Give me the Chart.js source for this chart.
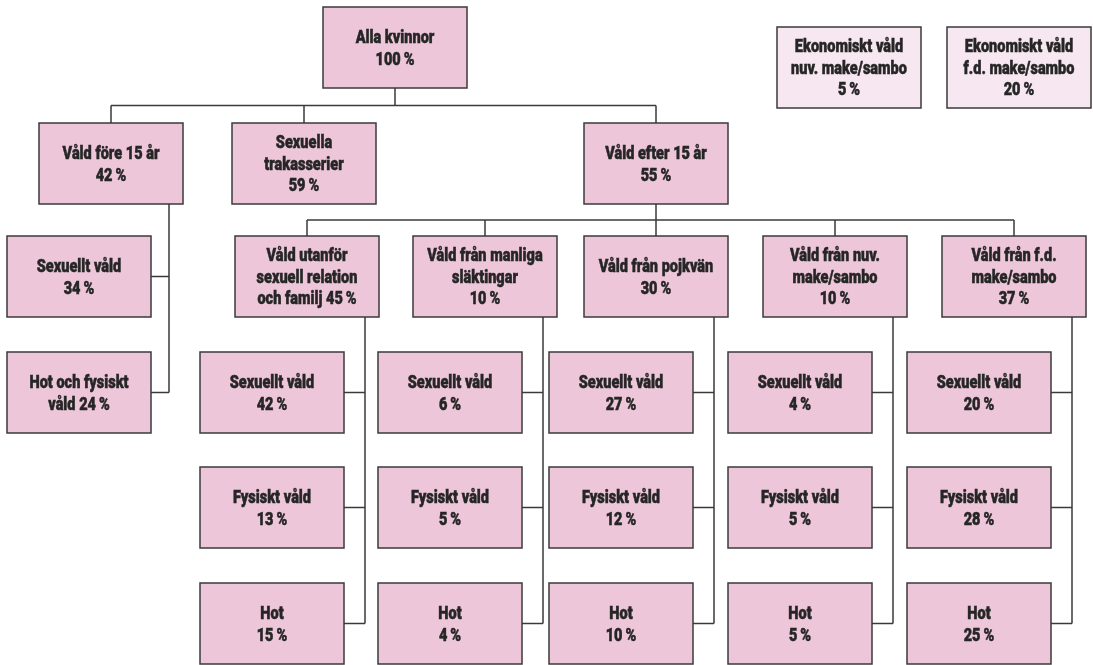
<!DOCTYPE html>
<html lang="sv">
<head>
<meta charset="utf-8">
<title>Våld mot kvinnor</title>
<script src="https://cdn.jsdelivr.net/npm/chart.js@4.4.1/dist/chart.umd.min.js"></script>
<style>
  html, body { margin: 0; padding: 0; background: #fff; }
  #wrap { position: relative; width: 1093px; height: 665px; }
</style>
</head>
<body>
<div id="wrap"><canvas id="treeChart"></canvas></div>
<script>
// data
const topLabel = "Alla kvinnor";
const topValue = 100;

const ageLabels = ["Våld före 15 år", "Sexuella\ntrakasserier", "Våld efter 15 år"];
const ageValues = [42, 59, 55];

const childhoodLabels = ["Sexuellt våld", "Hot och fysiskt\nvåld"];
const childhoodValues = [34, 24];

const perpetratorLabels = [
  "Våld utanför\nsexuell relation\noch familj",
  "Våld från manliga\nsläktingar",
  "Våld från pojkvän",
  "Våld från nuv.\nmake/sambo",
  "Våld från f.d.\nmake/sambo",
];
const perpetratorValues = [45, 10, 30, 10, 37];

const violenceTypes = ["Sexuellt våld", "Fysiskt våld", "Hot"];
const sexualValues = [42, 6, 27, 4, 20];
const physicalValues = [13, 5, 12, 5, 28];
const threatValues = [15, 4, 10, 5, 25];

const economicLabels = ["Ekonomiskt våld\nnuv. make/sambo", "Ekonomiskt våld\nf.d. make/sambo"];
const economicValues = [5, 20];

// layout (in axis units)
const BOX_W = 144;
const BOX_H = 81;
const rowTop = [7, 123, 236, 352, 467, 583];
const ageLeft = [39, 232, 584];
const groupLeft = [235, 413, 584, 763, 942];
const economicLeft = [777, 947];
const SPINE = 130;

const FILL = "#edc6da";
const FILL_LIGHT = "#f7e7f0";
const INK = "#3a3a3a";

function pct(v) { return v + "\u2009%"; }
function text(label, value, inline) {
  return label + (inline ? " " : "\n") + pct(value);
}

const nodes = [];
function addNode(label, value, left, top, opts) {
  opts = opts || {};
  nodes.push({
    text: text(label, value, opts.inline),
    left: left,
    top: top,
    fill: opts.fill || FILL,
  });
  return nodes[nodes.length - 1];
}

const root = addNode(topLabel, topValue, 323, rowTop[0]);
const ages = ageValues.map((v, i) => addNode(ageLabels[i], v, ageLeft[i], rowTop[1]));
const childhood = childhoodValues.map((v, i) =>
  addNode(childhoodLabels[i], v, 7, rowTop[2 + i], { inline: i === 1 }));
const groups = perpetratorValues.map((v, i) =>
  addNode(perpetratorLabels[i], v, groupLeft[i], rowTop[2], { inline: i === 0 }));
const subSeries = [sexualValues, physicalValues, threatValues];
const subs = groupLeft.map((gl, i) =>
  subSeries.map((series, k) => addNode(violenceTypes[k], series[i], gl - 35, rowTop[3 + k])));
economicValues.forEach((v, i) =>
  addNode(economicLabels[i], v, economicLeft[i], 27, { fill: FILL_LIGHT }));

// connectors
const cx = (n) => n.left + BOX_W / 2;
const bottom = (n) => n.top + BOX_H;
const cy = (n) => n.top + BOX_H / 2;
const segments = [];
function seg(x1, y1, x2, y2) { segments.push([{ x: x1, y: y1 }, { x: x2, y: y2 }]); }

function bus(parent, children) {
  const busY = (bottom(parent) + children[0].top) / 2;
  seg(cx(parent), bottom(parent), cx(parent), busY);
  seg(cx(children[0]), busY, cx(children[children.length - 1]), busY);
  children.forEach((c) => seg(cx(c), busY, cx(c), c.top));
}
function spine(parent, children) {
  const sx = parent.left + SPINE;
  seg(sx, bottom(parent), sx, cy(children[children.length - 1]));
  children.forEach((c) => seg(c.left + BOX_W, cy(c), sx, cy(c)));
}

bus(root, ages);
spine(ages[0], childhood);
bus(ages[2], groups);
groups.forEach((g, i) => spine(g, subs[i]));

const datasets = segments.map((s) => ({
  type: "line",
  data: s,
  borderColor: INK,
  borderWidth: 1.5,
  pointRadius: 0,
  tension: 0,
  fill: false,
}));
datasets.push({
  type: "scatter",
  data: nodes.map((n) => ({ x: cx(n), y: cy(n) })),
  pointRadius: 0,
});
const nodeIndex = datasets.length - 1;

const boxPlugin = {
  id: "boxes",
  afterDatasetsDraw(chart) {
    const { ctx, scales } = chart;
    const meta = chart.getDatasetMeta(nodeIndex);
    const w = scales.x.getPixelForValue(BOX_W) - scales.x.getPixelForValue(0);
    const h = Math.abs(scales.y.getPixelForValue(BOX_H) - scales.y.getPixelForValue(0));
    ctx.save();
    nodes.forEach((n, i) => {
      const p = meta.data[i];
      const x0 = p.x - w / 2, y0 = p.y - h / 2;
      ctx.fillStyle = n.fill;
      ctx.fillRect(x0, y0, w, h);
      ctx.strokeStyle = INK;
      ctx.lineWidth = 1.5;
      ctx.strokeRect(x0, y0, w, h);

      const lines = n.text.split("\n");
      const lh = 21.5;
      ctx.fillStyle = "#262626";
      ctx.strokeStyle = "#262626";
      ctx.lineWidth = 0.5;
      ctx.font = "900 17.5px Roboto, 'DejaVu Sans', sans-serif";
      ctx.textAlign = "center";
      ctx.textBaseline = "middle";
      lines.forEach((line, k) => {
        const ty = p.y + 2 + (k - (lines.length - 1) / 2) * lh;
        ctx.save();
        ctx.translate(p.x, ty);
        ctx.scale(0.83, 1);
        ctx.fillText(line, 0, 0);
        ctx.strokeText(line, 0, 0);
        ctx.restore();
      });
    });
    ctx.restore();
  },
};

document.addEventListener("DOMContentLoaded", function () {
  const ctx = document.getElementById("treeChart").getContext("2d");
  new Chart(ctx, {
    type: "scatter",
    data: { datasets: datasets },
    options: {
      responsive: true,
      maintainAspectRatio: false,
      animation: false,
      layout: { padding: 0 },
      scales: {
        x: { type: "linear", min: 0, max: 1093, display: false },
        y: { type: "linear", min: 0, max: 665, reverse: true, display: false },
      },
      plugins: {
        legend: { display: false },
        tooltip: { enabled: false },
      },
    },
    plugins: [boxPlugin],
  });
});
</script>
</body>
</html>
